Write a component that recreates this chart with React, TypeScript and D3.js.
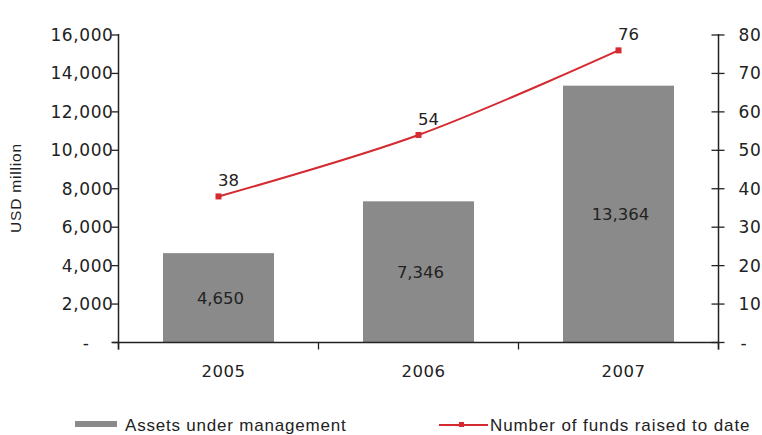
import React from "react";
import * as d3 from "d3";

const years = ["2005", "2006", "2007"];
const assets = [4650, 7346, 13364];
const funds = [38, 54, 76];
const leftTicks = [0, 2000, 4000, 6000, 8000, 10000, 12000, 14000, 16000];
const rightTicks = [0, 10, 20, 30, 40, 50, 60, 70, 80];

const W = 762;
const H = 435;
const left = 118.5;
const right = 718.5;
const top = 35;
const bottom = 342.5;

const numFont = "'DejaVu Sans', Verdana, sans-serif";
const txtFont = "'Liberation Sans', Arial, Helvetica, sans-serif";
const textColor = "#222";
const barColor = "#8a8a8a";
const red = "#d42a30";

export default function App() {
  const x = d3.scaleBand<string>().domain(years).range([left, right]).paddingInner(0.445).paddingOuter(0.2225);
  const yL = d3.scaleLinear().domain([0, 16000]).range([bottom, top]);
  const yR = d3.scaleLinear().domain([0, 80]).range([bottom, top]);
  const fmt = d3.format(",");
  const cx = (y: string) => (x(y) as number) + x.bandwidth() / 2;
  const linePts: [number, number][] = years.map((y, i) => [cx(y), yR(funds[i])]);
  const line = d3.line().curve(d3.curveCatmullRom.alpha(0.5))(linePts) || "";
  const catTicks = [left, ...years.map((y) => (x(y) as number) + x.bandwidth() + (x.step() - x.bandwidth()) / 2)];

  return (
    <svg width={W} height={H} style={{ position: "absolute", left: 0, top: 0, background: "#fff" }}>
      <rect x={0} y={0} width={W} height={H} fill="#fff" />
      {/* bars */}
      {years.map((y, i) => (
        <rect key={y} x={x(y)} y={yL(assets[i])} width={x.bandwidth()} height={bottom - yL(assets[i])} fill={barColor} />
      ))}
      {years.map((y, i) => (
        <text key={"bl" + y} x={cx(y) + 2} y={(yL(assets[i]) + bottom) / 2 + 6} textAnchor="middle"
          fontFamily={numFont} fontSize={16.5} fill={textColor}>{fmt(assets[i])}</text>
      ))}
      {/* axes */}
      <line x1={left} x2={left} y1={top - 1} y2={bottom + 7} stroke="#222" strokeWidth={1.5} />
      <line x1={right} x2={right} y1={top - 1} y2={bottom + 7} stroke="#222" strokeWidth={1.5} />
      <line x1={left - 6} x2={right} y1={bottom} y2={bottom} stroke="#222" strokeWidth={1.5} />
      {leftTicks.map((t) => (
        <g key={"lt" + t}>
          <line x1={left - 7} x2={left} y1={yL(t)} y2={yL(t)} stroke="#222" strokeWidth={1.3} />
          <text x={t === 0 ? left - 29 : left - 5} y={yL(t) + 6} textAnchor="end" fontFamily={numFont}
            fontSize={17} letterSpacing={0.6} fill={textColor}>{t === 0 ? "-" : fmt(t)}</text>
        </g>
      ))}
      {rightTicks.map((t) => (
        <g key={"rt" + t}>
          <line x1={right - 7} x2={right + 6} y1={yR(t)} y2={yR(t)} stroke="#222" strokeWidth={1.3} />
          <text x={t === 0 ? right + 22 : right + 20} y={yR(t) + 6} textAnchor="start" fontFamily={numFont}
            fontSize={17} letterSpacing={0.6} fill={textColor}>{t === 0 ? "-" : String(t)}</text>
        </g>
      ))}
      {catTicks.map((t, i) => (
        <line key={"ct" + i} x1={t} x2={t} y1={bottom} y2={bottom + 7} stroke="#222" strokeWidth={1.3} />
      ))}
      {years.map((y) => (
        <text key={"yl" + y} x={cx(y) + 5} y={377} textAnchor="middle" fontFamily={numFont} fontSize={16.5}
          letterSpacing={0.5} fill={textColor}>{y}</text>
      ))}
      {/* y title */}
      <text transform={`translate(21,188) rotate(-90)`} textAnchor="middle" fontFamily={txtFont} fontSize={15.5}
        letterSpacing={0.8} fill={textColor}>USD million</text>
      {/* line */}
      <path d={line} fill="none" stroke={red} strokeWidth={2} />
      {linePts.map(([px, py], i) => (
        <rect key={"m" + i} x={px - 3} y={py - 3} width={6} height={6} fill={red} />
      ))}
      {linePts.map(([px, py], i) => (
        <text key={"ll" + i} x={px + 10} y={py - 10} textAnchor="middle" fontFamily={numFont} fontSize={16.5}
          fill={textColor}>{funds[i]}</text>
      ))}
      {/* legend */}
      <rect x={75} y={421} width={42} height={6} fill={barColor} />
      <text x={125} y={431} fontFamily={txtFont} fontSize={17} letterSpacing={0.8} fill={textColor}>Assets under management</text>
      <line x1={439} x2={488} y1={425} y2={425} stroke={red} strokeWidth={2} />
      <rect x={459} y={422} width={5} height={5} fill={red} />
      <text x={490} y={431} fontFamily={txtFont} fontSize={17} letterSpacing={0.9} fill={textColor}>Number of funds raised to date</text>
    </svg>
  );
}
